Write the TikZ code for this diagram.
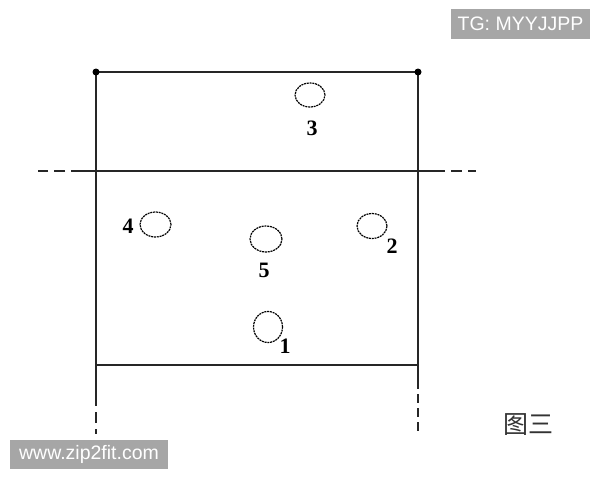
\documentclass[tikz,border=0pt]{standalone}
\usepackage{fontspec}
\setmainfont{Liberation Serif}
\newfontfamily\wmfont{Liberation Sans}
\newfontfamily\cjk{Noto Sans CJK SC}
\usetikzlibrary{shapes.geometric}
\begin{document}
\begin{tikzpicture}[x=1pt,y=-1pt,
  wall/.style={line width=1.5pt,black!85},
  wallcut/.style={line width=1.5pt,black!85,dash pattern=on 11pt off 6pt},
  hole/.style={draw,ellipse,inner sep=0pt,line width=1.2pt,dash pattern=on 2pt off 0.8pt},
  num/.style={font=\fontsize{22}{22}\selectfont\bfseries,inner sep=0pt},
  wm/.style={fill=black!35,text=white,font=\wmfont\fontsize{19.5}{19.5}\selectfont,inner sep=0pt,anchor=center}]
\useasboundingbox (0,0) rectangle (600,480);
\fill[white] (0,0) rectangle (600,480);
% frame corners
\coordinate (TL) at (96,72);
\coordinate (TR) at (418,72);
\coordinate (BL) at (96,365);
\coordinate (BR) at (418,365);
\coordinate (ML) at (82,171);
\coordinate (MR) at (434,171);
\coordinate (MLe) at (38,171);
\coordinate (MRe) at (476,171);
\coordinate (LS) at (96,395);
\coordinate (LE) at (96,434);
\coordinate (RS) at (418,380);
\coordinate (RE) at (418,432);
\draw[wall] (TL) -- (TR);
\draw[wall] (TL) -- (BL) -- (BR) -- (TR);
\draw[wall] (ML) -- (MR);
\draw[wallcut] (ML) -- (MLe);
\draw[wallcut] (MR) -- (MRe);
\draw[wall] (BL) -- (LS);
\draw[wallcut] (LS) -- (LE);
\draw[wall] (BR) -- (RS);
\draw[wall,dash pattern=on 9pt off 5pt] (RS) -- (RE);
\fill (TL) circle (3.5);
\fill (TR) circle (3.5);
% holes
\node[hole,minimum width=30pt,minimum height=24pt] (h3) at (310,95) {};
\node[hole,minimum width=31pt,minimum height=25pt] (h4) at (155.5,224.5) {};
\node[hole,minimum width=32pt,minimum height=26pt] (h5) at (266,239) {};
\node[hole,minimum width=30pt,minimum height=25pt] (h2) at (372,226) {};
\node[hole,minimum width=29pt,minimum height=31pt] (h1) at (268,327) {};
% labels
\node[num] (l3) at (312,128) {3};
\node[num] (l4) at (128,226) {4};
\node[num] (l5) at (264,270) {5};
\node[num] (l2) at (392,246) {2};
\node[num] (l1) at (285,346) {1};
% caption
\node[font=\cjk\fontsize{25}{25}\selectfont,inner sep=0pt,text=black!80] (cap) at (528,425) {图三};
% watermarks
\node[wm,minimum width=139pt,minimum height=30pt] (wm1) at (520.5,24) {TG: MYYJJPP};
\node[wm,minimum width=158pt,minimum height=29pt] (wm2) at (89,454.5) {www.zip2fit.com};
\end{tikzpicture}
\end{document}
